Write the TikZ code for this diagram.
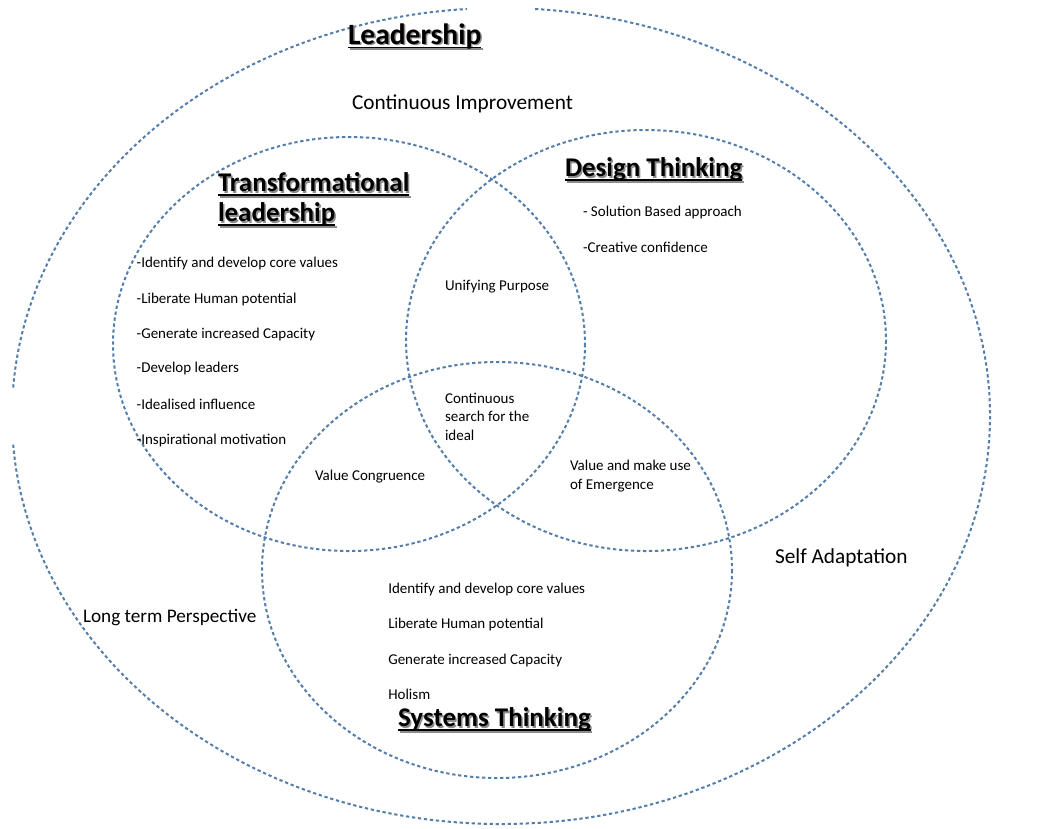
\documentclass[tikz,border=0pt]{standalone}
\usepackage{fontspec}
\setmainfont{Carlito}
\usetikzlibrary{calc}
\definecolor{dotc}{RGB}{84,125,170}
\definecolor{shad}{RGB}{140,140,140}
\newcommand\ttltext[4]{%
  \node[#3,text=shad] (#1s) at ($(#2)+(1.6,1.6)$) {#4};
  \draw[shad,line width=1.6pt] ($(#1s.base west)+(0,3.5)$) -- ($(#1s.base east)+(0,3.5)$);
  \node[#3] (#1) at (#2) {#4};
  \draw[line width=1.6pt] ($(#1.base west)+(0,3.5)$) -- ($(#1.base east)+(0,3.5)$);
}
\begin{document}
\begin{tikzpicture}[x=1pt,y=-1pt,
  dots/.style={draw=dotc,line width=2pt,dash pattern=on 3.3pt off 2.7pt},
  txt/.style={anchor=base west,inner sep=0,outer sep=0,font=\fontsize{15}{18}\selectfont},
  big/.style={anchor=base west,inner sep=0,outer sep=0,font=\fontsize{21.3}{25}\selectfont},
  mid/.style={anchor=base west,inner sep=0,outer sep=0,font=\fontsize{19.2}{23}\selectfont},
  ttl/.style={anchor=base west,inner sep=0,outer sep=0,font=\fontsize{27}{30}\selectfont\bfseries},
  ttlL/.style={anchor=base west,inner sep=0,outer sep=0,font=\fontsize{29.5}{32}\selectfont\bfseries}]
\useasboundingbox (0,0) rectangle (1043,828);
% outer ellipse with two gaps
\draw[dots] ([shift={(274:489 and 408)}]501,416) arc[start angle=274,end angle=536,x radius=489,y radius=408];
\draw[dots] ([shift={(184:489 and 408)}]501,416) arc[start angle=184,end angle=266,x radius=489,y radius=408];
% three circles
\draw[dots] (349,344) ellipse [x radius=236,y radius=207];
\draw[dots] (646,340.5) ellipse [x radius=240,y radius=210.5];
\draw[dots] (497,570) ellipse [x radius=235,y radius=208];
% titles
\ttltext{lead}{348,44}{ttlL}{Leadership}
\ttltext{tl1}{218,191.7}{ttl}{Transformational}
\ttltext{tl2}{218,221.7}{ttl}{leadership}
\ttltext{dt}{565,176.7}{ttl}{Design Thinking}
\ttltext{st}{398,726.7}{ttl}{Systems Thinking}
% big labels
\node[big] (ci) at (352,109) {Continuous Improvement};
\node[big] (sa) at (775,563) {Self Adaptation};
\node[mid] (lp) at (83,622.5) {Long term Perspective};
% design thinking list
\node[txt] (d1) at (583,216.7) {- Solution Based approach};
\node[txt] (d2) at (583,252.3) {-Creative confidence};
% transformational list
\node[txt] (t1) at (136.7,267.3) {-Identify and develop core values};
\node[txt] (t2) at (136.7,303.3) {-Liberate Human potential};
\node[txt] (t3) at (136.7,338.3) {-Generate increased Capacity};
\node[txt] (t4) at (136.7,372.7) {-Develop leaders};
\node[txt] (t5) at (136.7,409) {-Idealised influence};
\node[txt] (t6) at (136.7,444.3) {-Inspirational motivation};
% intersections
\node[txt] (up) at (445,290.7) {Unifying Purpose};
\node[txt] (cs1) at (445,403.3) {Continuous};
\node[txt] (cs2) at (445,421.7) {search for the};
\node[txt] (cs3) at (445,440.7) {ideal};
\node[txt] (vc) at (315,480.5) {Value Congruence};
\node[txt] (ve1) at (570,470.5) {Value and make use};
\node[txt] (ve2) at (570,489.5) {of Emergence};
% systems list
\node[txt] (s1) at (388.3,593.3) {Identify and develop core values};
\node[txt] (s2) at (388.3,628.3) {Liberate Human potential};
\node[txt] (s3) at (388.3,664.3) {Generate increased Capacity};
\node[txt] (s4) at (388.3,699.3) {Holism};
\end{tikzpicture}
\end{document}
